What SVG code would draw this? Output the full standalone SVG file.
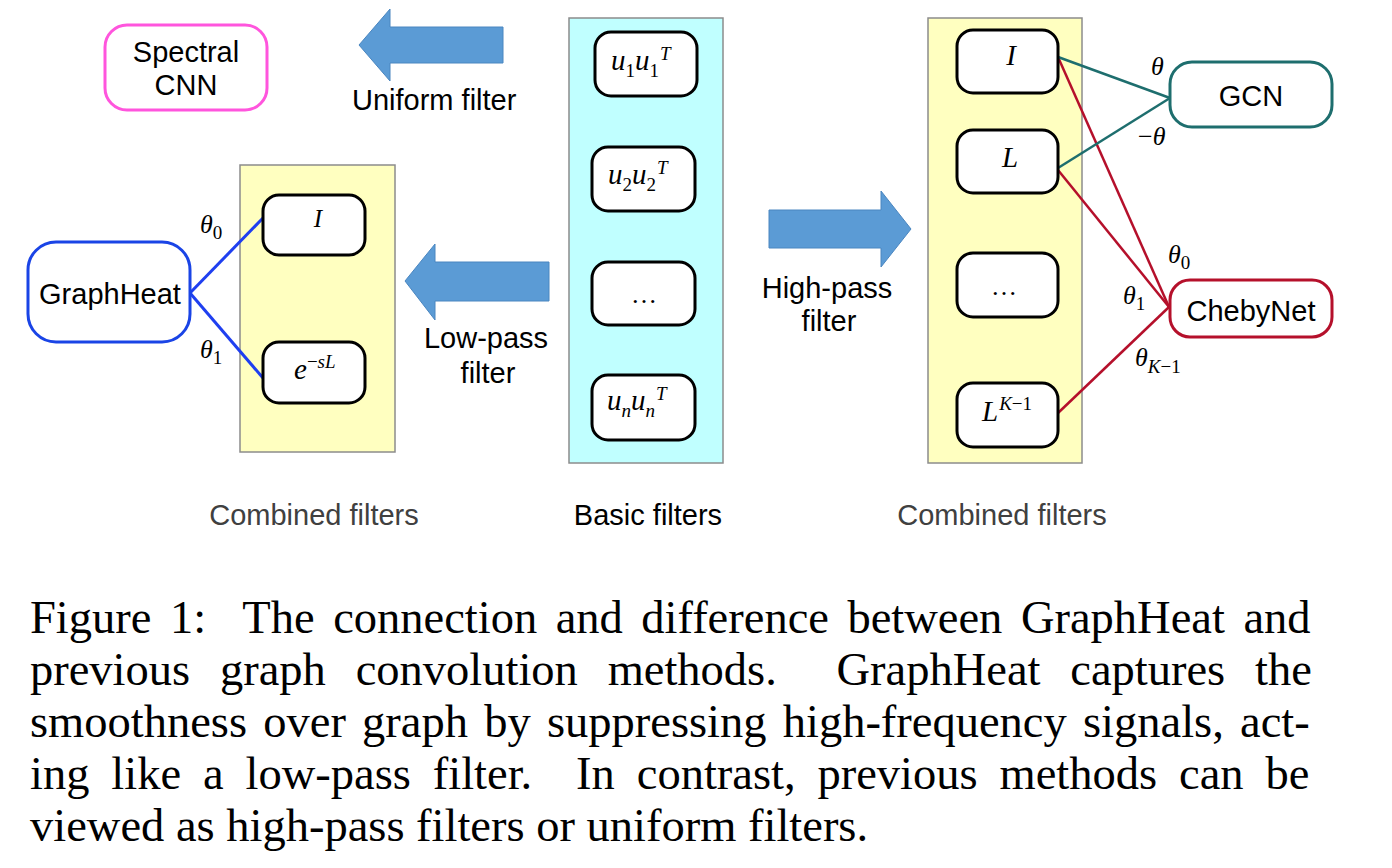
<svg xmlns="http://www.w3.org/2000/svg" width="1392" height="868" viewBox="0 0 1392 868">
<style>
.panel{stroke:#8c8c8c;stroke-width:1.5}
.cyan{fill:#c0ffff}
.yel{fill:#ffffc0}
.box{fill:#fff;stroke:#000;stroke-width:3}
.lbl{font-family:"Liberation Sans",Arial,sans-serif;font-size:29px;fill:#000}
.gray{fill:#404040}
.m{font-family:"Liberation Serif","Times New Roman",serif;font-style:italic;font-size:29px;fill:#000}
.th{font-family:"Liberation Serif","Times New Roman",serif;font-style:italic;font-size:26px;fill:#000}
.s{font-size:19px;font-style:normal}
.si{font-size:19px}
.arrow{fill:#5b9bd5;stroke:#4a86c0;stroke-width:1}
.cap{font-family:"Liberation Serif","Times New Roman",serif;font-size:46.5px;fill:#000;white-space:pre}
.blue{stroke:#1f3ff0;stroke-width:3;fill:none}
.teal{stroke:#1e6e6e;stroke-width:2.5;fill:none}
.red{stroke:#b5102b;stroke-width:2.5;fill:none}
</style>

<g id="panels">
<rect class="panel cyan" x="569" y="18" width="154" height="445"/>
<rect class="panel yel" x="928" y="18" width="154" height="445"/>
<rect class="panel yel" x="240" y="165" width="155" height="287"/>
</g>

<g id="arrows">
<polygon class="arrow" points="359,45 390,9 390,27 503,27 503,63 390,63 390,81"/>
<polygon class="arrow" points="405,281 435,244 435,262 549,262 549,301 435,301 435,320"/>
<polygon class="arrow" points="911,229 881,191 881,210 769,210 769,248 881,248 881,267"/>
</g>

<g id="connectors">
<line class="blue" x1="190" y1="293" x2="263" y2="218"/>
<line class="blue" x1="190" y1="293" x2="263" y2="378"/>
<line class="red" x1="1058" y1="57" x2="1169" y2="307"/>
<line class="red" x1="1058" y1="170" x2="1169" y2="307"/>
<line class="red" x1="1058" y1="413" x2="1169" y2="307"/>
<line class="teal" x1="1058" y1="57" x2="1170" y2="98"/>
<line class="teal" x1="1058" y1="168" x2="1170" y2="98"/>
</g>

<g id="basic-u1">
<rect class="box" x="595" y="32" width="102" height="64" rx="16"/>
<text class="m" x="611" y="70">u<tspan class="s" dy="7">1</tspan><tspan dy="-7">u</tspan><tspan class="s" dy="7">1</tspan><tspan class="si" dx="1" dy="-17">T</tspan></text>
</g>
<g id="basic-u2">
<rect class="box" x="592" y="147" width="103" height="64" rx="16"/>
<text class="m" x="608" y="184">u<tspan class="s" dy="7">2</tspan><tspan dy="-7">u</tspan><tspan class="s" dy="7">2</tspan><tspan class="si" dx="1" dy="-17">T</tspan></text>
</g>
<g id="basic-dots">
<rect class="box" x="592" y="262" width="103" height="63" rx="16"/>
<text class="m" x="644" y="303" text-anchor="middle" style="font-style:normal;font-size:26px">…</text>
</g>
<g id="basic-un">
<rect class="box" x="592" y="375" width="103" height="65" rx="16"/>
<text class="m" x="607" y="410">u<tspan class="si" dy="7">n</tspan><tspan dy="-7">u</tspan><tspan class="si" dy="7">n</tspan><tspan class="si" dx="1" dy="-17">T</tspan></text>
</g>

<g id="right-I">
<rect class="box" x="957" y="30" width="101" height="63" rx="16"/>
<text class="m" x="1011" y="65" text-anchor="middle">I</text>
</g>
<g id="right-L">
<rect class="box" x="957" y="130" width="101" height="63" rx="16"/>
<text class="m" x="1010" y="167" text-anchor="middle">L</text>
</g>
<g id="right-dots">
<rect class="box" x="957" y="253" width="101" height="64" rx="16"/>
<text class="m" x="1004" y="295" text-anchor="middle" style="font-style:normal;font-size:26px">…</text>
</g>
<g id="right-LK">
<rect class="box" x="957" y="383" width="101" height="64" rx="16"/>
<text class="m" x="982" y="421">L<tspan class="si" dx="1" dy="-11">K</tspan><tspan class="s">−1</tspan></text>
</g>

<g id="left-I">
<rect class="box" x="263" y="195" width="102" height="60" rx="16"/>
<text class="m" x="318" y="227" text-anchor="middle" style="font-size:25px">I</text>
</g>
<g id="left-exp">
<rect class="box" x="263" y="342" width="102" height="61" rx="16"/>
<text class="m" x="294" y="379">e<tspan class="s" dy="-11">−</tspan><tspan class="si">sL</tspan></text>
</g>

<g id="graphheat">
<rect x="28" y="242" width="162" height="100" rx="28" fill="#fff" stroke="#1a44e6" stroke-width="3"/>
<text class="lbl" x="110" y="304" text-anchor="middle">GraphHeat</text>
</g>
<g id="spectral-cnn">
<rect x="105" y="25" width="162" height="85" rx="22" fill="#fff" stroke="#ff55dd" stroke-width="3"/>
<text class="lbl" x="186" y="62" text-anchor="middle">Spectral</text>
<text class="lbl" x="186" y="95" text-anchor="middle">CNN</text>
</g>
<g id="gcn">
<rect x="1170" y="62" width="162" height="65" rx="22" fill="#fff" stroke="#1e6e6e" stroke-width="3"/>
<text class="lbl" x="1251" y="106" text-anchor="middle">GCN</text>
</g>
<g id="chebynet">
<rect x="1170" y="280" width="162" height="57" rx="20" fill="#fff" stroke="#b5102b" stroke-width="3"/>
<text class="lbl" x="1251" y="321" text-anchor="middle">ChebyNet</text>
</g>

<g id="edge-labels">
<text class="th" x="200" y="233">θ<tspan class="s" dy="6">0</tspan></text>
<text class="th" x="200" y="358">θ<tspan class="s" dy="6">1</tspan></text>
<text class="th" x="1151" y="75">θ</text>
<text class="th" x="1138" y="145"><tspan style="font-style:normal">−</tspan>θ</text>
<text class="th" x="1168" y="263">θ<tspan class="s" dy="6">0</tspan></text>
<text class="th" x="1123" y="304">θ<tspan class="s" dy="6">1</tspan></text>
<text class="th" x="1135" y="366">θ<tspan class="si" dy="7">K</tspan><tspan class="s">−1</tspan></text>
</g>

<g id="labels">
<text class="lbl" x="352" y="110">Uniform filter</text>
<text class="lbl" x="486" y="348" text-anchor="middle">Low-pass</text>
<text class="lbl" x="488" y="383" text-anchor="middle">filter</text>
<text class="lbl" x="827" y="298" text-anchor="middle">High-pass</text>
<text class="lbl" x="829" y="331" text-anchor="middle">filter</text>
<text class="lbl gray" x="314" y="525" text-anchor="middle">Combined filters</text>
<text class="lbl" x="648" y="525" text-anchor="middle">Basic filters</text>
<text class="lbl gray" x="1002" y="525" text-anchor="middle">Combined filters</text>
</g>

<g id="caption">
<text class="cap" x="30" y="633" style="word-spacing:6.9px">Figure 1:  The connection and difference between GraphHeat and</text>
<text class="cap" x="30" y="685" style="word-spacing:18.2px">previous graph convolution methods.  GraphHeat captures the</text>
<text class="cap" x="30" y="737" style="word-spacing:4.6px">smoothness over graph by suppressing high-frequency signals, act-</text>
<text class="cap" x="30" y="789" style="word-spacing:10.3px">ing like a low-pass filter.  In contrast, previous methods can be</text>
<text class="cap" x="30" y="841">viewed as high-pass filters or uniform filters.</text>
</g>
</svg>
